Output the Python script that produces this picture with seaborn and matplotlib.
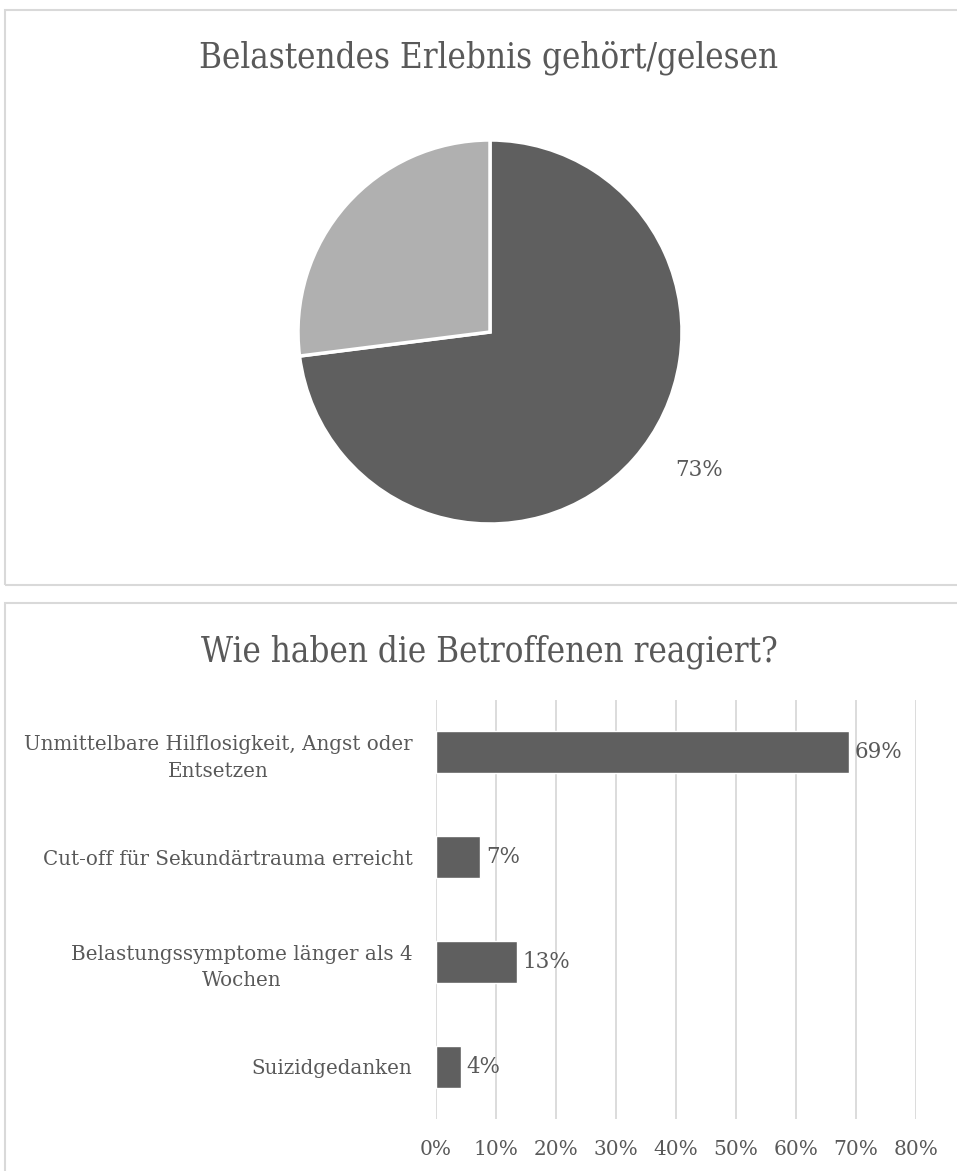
import matplotlib
matplotlib.use("Agg")
import matplotlib.pyplot as plt
from matplotlib.patches import Rectangle
import pandas as pd
import seaborn as sns

# pie data
pie_title = "Belastendes Erlebnis gehört/gelesen"
pie_labels = ["Ja", "Nein"]
pie_values = [73, 27]
pie_colors = ["#5f5f5f", "#b0b0b0"]

# bar data
bar_title = "Wie haben die Betroffenen reagiert?"
bar_categories = [
    "Unmittelbare Hilflosigkeit, Angst oder\nEntsetzen",
    "Cut-off für Sekundärtrauma erreicht",
    "Belastungssymptome länger als 4\nWochen",
    "Suizidgedanken",
]
bar_values = [68.8, 7.4, 13.5, 4.2]
bar_labels = ["69%", "7%", "13%", "4%"]
x_ticks = [0, 10, 20, 30, 40, 50, 60, 70, 80]

sns.set_theme(style="white")
plt.rcParams["font.family"] = ["DejaVu Serif", "DejaVu Sans"]
txt = "#595959"

W, H = 957, 1171
fig = plt.figure(figsize=(W / 100, H / 100), dpi=100)


def fx(px):
    return px / W


def fy(py):
    return 1 - py / H


# panel borders
for top, bottom in [(10, 585), (603, 1200)]:
    fig.patches.append(Rectangle((fx(5), fy(bottom)), fx(1100) - fx(5), fy(top) - fy(bottom),
                                 transform=fig.transFigure, fill=False,
                                 edgecolor="#d9d9d9", linewidth=1.5))

# titles
fig.text(fx(489), fy(58), pie_title, ha="center", va="center", fontsize=25,
         color=txt, fontstretch="condensed")
fig.text(fx(489), fy(652), bar_title, ha="center", va="center", fontsize=25,
         color=txt, fontstretch="condensed")

# pie
r = 192
ax1 = fig.add_axes([fx(490 - r), fy(332 + r), 2 * r / W, 2 * r / H])
wedges, _, autotexts = ax1.pie(
    pie_values, colors=pie_colors, startangle=90, counterclock=False,
    autopct=lambda p: f"{p:.0f}%" if p > 50 else "", pctdistance=1.3,
    wedgeprops=dict(edgecolor="white", linewidth=2.5))
for t in autotexts:
    t.set_color(txt)
    t.set_fontsize(15.5)
# Excel "best fit" spot for the label
autotexts[0].set_position((1.09, -0.72))
ax1.set_xlim(-1, 1)
ax1.set_ylim(-1, 1)
ax1.set_aspect("equal")
ax1.axis("off")

# bars
df = pd.DataFrame({"cat": bar_categories, "val": bar_values})
ax2 = fig.add_axes([fx(436), fy(1119), (916 - 436) / W, 419 / H])
sns.barplot(data=df, y="cat", x="val", orient="h", color="#5f5f5f",
            width=0.4, saturation=1, ax=ax2, zorder=3)
ax2.bar_label(ax2.containers[0], labels=bar_labels, padding=4, fontsize=15.5, color=txt)
ax2.set_xlim(0, 80)
ax2.set_ylim(3.5, -0.5)
ax2.set_xticks(x_ticks)
ax2.set_xticklabels([f"{v}%" for v in x_ticks])
ax2.set_xlabel("")
ax2.set_ylabel("")
ax2.grid(axis="x", color="#d9d9d9", linewidth=1.3, zorder=0)
ax2.grid(axis="y", visible=False)
for s in ax2.spines.values():
    s.set_visible(False)
ax2.tick_params(axis="x", length=0, pad=15, labelsize=14.5, labelcolor=txt)
ax2.tick_params(axis="y", length=0, pad=17, labelsize=14.3, labelcolor=txt)
for lbl in ax2.get_yticklabels():
    lbl.set_multialignment("center")
    lbl.set_linespacing(1.5)

fig.savefig("out.png", dpi=100, facecolor="white")
